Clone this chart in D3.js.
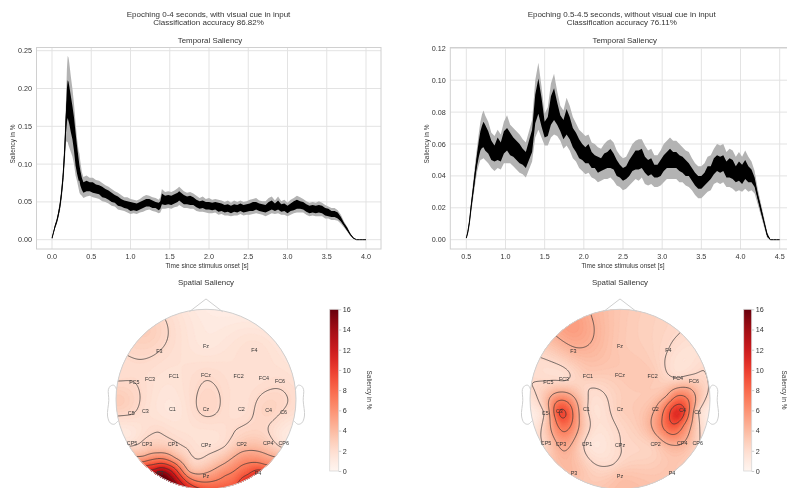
<!DOCTYPE html>
<html><head><meta charset="utf-8">
<script src="https://cdn.jsdelivr.net/npm/d3@7"></script>
<style>
html,body{margin:0;padding:0;background:#fff;overflow:hidden}
svg{display:block;font-family:"Liberation Sans",Arial,sans-serif;filter:blur(0.35px)}
</style></head><body>
<svg id="c" width="787" height="488"></svg>
<script>
// ---------- data ----------
const titleA = ["Epoching 0-4 seconds, with visual cue in input","Classification accuracy 86.82%"];
const titleB = ["Epoching 0.5-4.5 seconds, without visual cue in input","Classification accuracy 76.11%"];
const xTicksA = [0,0.5,1,1.5,2,2.5,3,3.5,4];
const xTicksB = [0.5,1,1.5,2,2.5,3,3.5,4,4.5];
const yTicksA = [0,0.05,0.1,0.15,0.2,0.25];
const yTicksB = [0,0.02,0.04,0.06,0.08,0.1,0.12];
const cbTicks = [0,2,4,6,8,10,12,14,16];

const timeA = [0,.02,.04,.06,.08,.10,.12,.14,.16,.18,.19,.20,.21,.22,.24,.26,.28,.30,.32,.34,.35,.36,.38,
.40,.44,.48,.52,.56,.60,.64,.68,.72,.76,.80,.84,.88,.92,.96,1.00,1.04,1.08,1.12,1.16,1.20,1.24,1.28,1.32,1.36,1.38,1.40,1.44,1.48,1.52,1.56,1.60,1.62,1.68,1.72,1.76,1.80,1.84,1.88,1.92,1.96,2.00,2.04,2.08,2.12,2.16,2.20,2.24,2.28,2.32,2.36,2.40,2.44,2.48,2.52,2.56,2.60,2.64,2.68,2.72,2.76,2.80,2.84,2.88,2.92,2.96,3.00,3.04,3.08,3.12,3.16,3.20,3.24,3.28,3.32,3.36,3.40,3.44,3.48,3.52,3.56,3.60,3.64,3.68,3.72,3.76,3.80,3.84,3.88,3.92,3.96,4.00];
const meanA = [.002,.010,.018,.024,.033,.044,.060,.082,.115,.160,.178,.186,.183,.178,.166,.155,.140,.120,.105,.092,.088,.082,.074,
.069,.071,.070,.069,.067,.066,.063,.061,.059,.056,.054,.051,.049,.047,.046,.044,.044,.043,.045,.047,.049,.049,.047,.046,.044,.046,.054,.052,.053,.052,.054,.056,.058,.053,.052,.052,.051,.048,.046,.047,.045,.045,.044,.045,.043,.043,.041,.042,.040,.042,.041,.043,.041,.042,.043,.044,.045,.043,.042,.041,.044,.046,.043,.046,.042,.043,.040,.043,.045,.047,.046,.045,.042,.040,.041,.040,.041,.040,.037,.036,.034,.034,.032,.027,.020,.014,.007,.002,0,0,0,0];
const blackHalfA = [.001,.001,.002,.002,.003,.004,.005,.007,.010,.016,.022,.025,.026,.025,.024,.022,.022,.022,.018,.014,.010,.010,.008,
.007,.007,.006,.007,.006,.006,.007,.006,.006,.006,.005,.006,.005,.005,.005,.006,.005,.005,.005,.005,.005,.005,.005,.004,.005,.005,.007,.006,.006,.006,.006,.006,.006,.006,.005,.006,.005,.005,.005,.005,.005,.005,.005,.005,.006,.005,.005,.005,.005,.005,.005,.005,.005,.005,.005,.006,.005,.005,.005,.005,.006,.006,.005,.006,.005,.005,.005,.005,.006,.006,.005,.005,.005,.005,.005,.005,.005,.005,.005,.005,.004,.004,.004,.003,.002,.002,.001,.0005,0,0,0,0];
const greyHalfA = [.001,.002,.003,.004,.005,.007,.009,.012,.018,.030,.048,.057,.058,.056,.050,.045,.040,.035,.028,.025,.026,.022,.016,
.014,.014,.012,.013,.012,.012,.012,.011,.011,.011,.010,.011,.010,.009,.010,.010,.009,.009,.009,.010,.010,.009,.009,.009,.009,.010,.013,.011,.011,.011,.011,.012,.012,.011,.010,.011,.010,.010,.009,.010,.009,.010,.009,.009,.010,.009,.009,.010,.009,.010,.009,.009,.009,.009,.010,.010,.010,.009,.009,.010,.011,.011,.009,.011,.009,.010,.009,.010,.010,.011,.010,.009,.009,.009,.009,.009,.010,.009,.009,.008,.008,.008,.007,.006,.004,.003,.002,.001,0,0,0,0];

const timeB = [.50,.52,.54,.56,.58,.60,.62,.64,.66,.68,.70,.72,.74,.78,.82,.86,.90,.94,.98,1.02,1.06,1.10,1.14,1.18,1.22,1.26,1.30,1.34,1.38,1.42,1.46,1.50,1.54,1.58,1.62,1.66,1.70,1.74,1.78,1.82,1.86,1.90,1.94,1.98,2.02,2.06,2.10,2.14,2.18,2.22,2.26,2.30,2.34,2.38,2.42,2.46,2.50,2.54,2.58,2.62,2.66,2.70,2.74,2.78,2.82,2.86,2.90,2.94,2.98,3.02,3.06,3.10,3.14,3.18,3.22,3.26,3.30,3.34,3.38,3.42,3.46,3.50,3.54,3.58,3.62,3.66,3.70,3.74,3.78,3.82,3.86,3.90,3.94,3.98,4.02,4.06,4.10,4.14,4.18,4.22,4.26,4.30,4.34,4.38,4.42,4.46,4.50];
const meanB = [.001,.005,.011,.020,.028,.036,.044,.051,.057,.062,.0645,.066,.064,.061,.056,.054,.057,.055,.061,.063,.060,.058,.056,.054,.052,.050,.056,.062,.082,.090,.080,.069,.071,.081,.085,.079,.073,.069,.074,.070,.064,.061,.057,.055,.053,.054,.050,.049,.047,.047,.049,.050,.051,.049,.045,.043,.041,.042,.045,.048,.050,.050,.051,.047,.045,.046,.043,.043,.045,.048,.050,.051,.050,.050,.048,.047,.045,.044,.041,.038,.036,.036,.038,.041,.042,.046,.048,.047,.048,.044,.045,.044,.041,.043,.041,.044,.041,.040,.036,.027,.019,.011,.003,0,0,0,0];
const blackHalfB = [0,.001,.001,.002,.002,.003,.003,.004,.005,.006,.007,.008,.008,.007,.006,.005,.007,.006,.007,.007,.007,.006,.006,.006,.005,.005,.006,.007,.009,.011,.009,.005,.006,.009,.010,.007,.005,.006,.008,.007,.006,.006,.006,.005,.005,.006,.005,.004,.005,.004,.005,.005,.006,.005,.005,.004,.004,.004,.005,.005,.006,.006,.006,.005,.005,.005,.004,.004,.005,.005,.005,.006,.005,.005,.005,.005,.005,.004,.004,.004,.004,.004,.004,.005,.004,.005,.005,.005,.005,.005,.006,.006,.005,.006,.006,.006,.005,.004,.003,.002,.002,.001,.001,0,0,0,0];
const greyHalfB = [0,.002,.003,.004,.005,.006,.007,.008,.010,.012,.014,.015,.014,.013,.011,.011,.012,.011,.013,.015,.012,.012,.012,.012,.011,.011,.012,.013,.018,.021,.016,.010,.012,.017,.019,.014,.011,.012,.015,.014,.013,.012,.012,.012,.012,.012,.011,.011,.011,.010,.011,.012,.012,.012,.011,.010,.010,.010,.011,.012,.012,.013,.012,.012,.011,.011,.010,.010,.011,.012,.012,.013,.012,.012,.012,.011,.011,.011,.010,.010,.010,.010,.010,.011,.011,.011,.012,.012,.012,.011,.012,.012,.011,.012,.011,.012,.011,.009,.007,.005,.004,.003,.002,0,0,0,0];

const chNames = ["Fz","F3","F4","FC5","FC3","FC1","FCz","FC2","FC4","FC6","C5","C3","C1","Cz","C2","C4","C6","CP5","CP3","CP1","CPz","CP2","CP4","CP6","P3","Pz","P4"];
const chX = [0,-.519,.537,-.796,-.622,-.356,0,.363,.644,.822,-.83,-.674,-.374,0,.393,.696,.863,-.822,-.656,-.367,0,.396,.693,.863,-.511,0,.578];
const chY = [.596,.541,.552,.189,.226,.263,.274,.263,.237,.2,-.152,-.13,-.111,-.104,-.111,-.122,-.141,-.489,-.496,-.5,-.504,-.496,-.489,-.485,-.822,-.848,-.822];
const salA = [1.3,2.3,2.0,2.3,1.9,1.7,2.2,1.8,1.9,2.1,2.4,1.9,1.3,2.6,1.8,2.8,2.2,1.8,2.9,2.6,1.7,3.3,3.0,1.5,15.2,5.2,10.5];
const salB = [3.3,4.3,2.3,2.4,2.0,3.2,3.3,3.3,2.2,2.9,2.4,9.3,2.4,3.0,4.6,10,2.2,2.5,5.0,1.7,2.3,3.2,4.6,2.6,4.0,3.6,3.5];
const extraAx = [-.659,0,.563,.933,.989,.933,-.974,-.974,-.974,-.4,-.492,-.696,-.53,-.344,-.197,.211,.397,.656,.822,-.696,-.53,-.344,-.178,.211,.397,.656,-.641,-.492,-.344,-.252,-.567,-.456,-.344,.47,.619,.341,.45,-.53,-.197,.026,.211,.322,-.81];
const extraAy = [.752,.974,.9,.456,-.1,-.47,-.026,.27,-.36,.937,-.841,-.638,-.6,-.656,-.804,-.711,-.582,-.6,-.652,-.693,-.656,-.711,-.878,-.841,-.73,-.73,-.73,-.711,-.767,-.878,-.786,-.767,-.841,-.841,-.786,-.971,-.96,-.352,-.544,-.608,-.527,-.341,-.508];
const extraAv = [3.1,1.0,1.0,1.4,2.0,1.3,3.2,2.0,1.3,2.0,15.8,4.57,4.57,4.57,4.57,4.57,4.57,4.57,4.57,6.86,6.86,6.86,6.86,6.86,6.86,6.86,9.14,9.14,9.14,9.14,11.43,11.43,11.43,9.14,9.14,9.14,13,2.29,2.29,2.29,2.29,2.29,2.29];
const extraBx = [-.519,-.326,-.707,-.89,0,.746,.67,.93,-.97,-1,-.97,-.648,-.222,-.222,-.259,-.074,-.352,.63,.944,.98,.519,.778,.826,.593,-.63,-.685,-.456,-.52,.52,-.722,-.593,-.526,-.63,-.715,.47,.63,.759,.704,.593,.481,.556,.63,.704,.685,.593];
const extraBy = [.795,.944,.701,.47,.98,.496,.739,.347,-.137,.16,-.47,-.174,-.507,-.285,-.73,-.73,.122,-.174,-.174,.085,.03,.122,-.1,-.507,-.58,.078,-.211,-.95,-.95,-.044,-.026,-.156,-.367,-.211,-.211,.04,-.007,-.285,-.396,-.322,-.174,-.063,-.081,-.211,-.278];
const extraBv = [5.6,4.57,4.57,2.29,3.4,1.6,2.29,2.29,1.0,2.29,2.0,10,1.4,1.8,2.29,2.29,2.29,11.5,1.3,2.29,4.57,4.57,4.57,4.57,4.57,4.57,4.57,3.2,3.4,6.86,6.86,6.86,6.86,6.86,6.86,6.86,6.86,6.86,6.86,6.86,9.14,9.14,9.14,9.14,9.14];
const contourLevels = [2.29,4.57,6.86,9.14,11.43,13.71];

// ---------- drawing ----------
const svg = d3.select("#c");
const TXT = "#333", GRID = "#e3e3e3", SPINE = "#d0d0d0";

function linePanel(o){
  const x = d3.scaleLinear().domain(o.xDom).range(o.xRange);
  const y = d3.scaleLinear().domain(o.yDom).range([239.7,o.yTop]);
  const g = svg.append("g");
  const clip = "clip"+o.id;
  svg.append("clipPath").attr("id",clip).append("rect").attr("x",o.left).attr("y",47.5).attr("width",o.right-o.left).attr("height",201.5);
  g.selectAll(".gx").data(o.xt).join("line").attr("x1",d=>x(d)).attr("x2",d=>x(d)).attr("y1",47.5).attr("y2",249).attr("stroke",GRID).attr("stroke-width",1);
  g.selectAll(".gy").data(o.yt).join("line").attr("x1",o.left).attr("x2",o.right).attr("y1",d=>y(d)).attr("y2",d=>y(d)).attr("stroke",GRID).attr("stroke-width",1);
  g.append("rect").attr("x",o.left).attr("y",47.5).attr("width",o.right-o.left).attr("height",201.5).attr("fill","none").attr("stroke",SPINE).attr("stroke-width",1);
  const idx = d3.range(o.time.length);
  const area = h=>d3.area().x(i=>x(o.time[i])).y0(i=>y(Math.max(0,o.mean[i]-h[i]))).y1(i=>y(o.mean[i]+h[i]));
  const m = g.append("g").attr("clip-path",`url(#${clip})`);
  m.append("path").attr("d",area(o.grey)(idx)).attr("fill","#b3b3b3");
  m.append("path").attr("d",area(o.black)(idx)).attr("fill","#000");
  m.append("path").attr("d",d3.line().x(i=>x(o.time[i])).y(i=>y(o.mean[i]))(idx)).attr("fill","none").attr("stroke","#000").attr("stroke-width",1);
  const tk = g.append("g").attr("font-size",7.2).attr("fill",TXT);
  tk.selectAll(".xl").data(o.xt).join("text").attr("x",d=>x(d)).attr("y",258.5).attr("text-anchor","middle").text(d=>d3.format(".1f")(d));
  tk.selectAll(".yl").data(o.yt).join("text").attr("x",o.left-4.5).attr("y",d=>y(d)+2.5).attr("text-anchor","end").text(d=>d3.format(".2f")(d));
  g.append("text").attr("x",o.tc).attr("y",43).attr("text-anchor","middle").attr("font-size",7.9).attr("fill",TXT).text("Temporal Saliency");
  g.append("text").attr("x",o.lc).attr("y",267.5).attr("text-anchor","middle").attr("font-size",6.5).attr("fill",TXT).text("Time since stimulus onset [s]");
  g.append("text").attr("transform",`translate(${o.ylx},144) rotate(-90)`).attr("text-anchor","middle").attr("font-size",6.5).attr("fill",TXT).text("Saliency in %");
  o.title.forEach((t,i)=>g.append("text").attr("x",o.sc).attr("y",16.5+i*8.7).attr("text-anchor","middle").attr("font-size",8).attr("fill",TXT).text(t));
}

function solveTPS(px,py,pv){
  const n=px.length, N=n+3;
  const phi=r=>r<1e-9?0:r*r*Math.log(r);
  const A=d3.range(N).map(()=>new Float64Array(N+1));
  for(let i=0;i<n;i++){
    for(let j=0;j<n;j++) A[i][j]=phi(Math.hypot(px[i]-px[j],py[i]-py[j]));
    A[i][i]=0.004;
    A[i][n]=1;A[i][n+1]=px[i];A[i][n+2]=py[i];
    A[n][i]=1;A[n+1][i]=px[i];A[n+2][i]=py[i];
    A[i][N]=pv[i];
  }
  for(let c=0;c<N;c++){
    let p=c;for(let r=c+1;r<N;r++) if(Math.abs(A[r][c])>Math.abs(A[p][c])) p=r;
    [A[c],A[p]]=[A[p],A[c]];
    for(let r=0;r<N;r++){ if(r===c) continue; const f=A[r][c]/A[c][c]; if(f===0) continue; for(let k=c;k<=N;k++) A[r][k]-=f*A[c][k]; }
  }
  const w=d3.range(N).map(i=>A[i][N]/A[i][i]);
  return (x,y)=>{let s=w[n]+w[n+1]*x+w[n+2]*y;for(let i=0;i<n;i++) s+=w[i]*phi(Math.hypot(x-px[i],y-py[i]));return s;};
}

function headPanel(o){
  const R=90, cy=399.3;
  const hx=d3.scaleLinear().domain([-1,1]).range([o.cx-R,o.cx+R]);
  const hy=d3.scaleLinear().domain([-1,1]).range([cy+R,cy-R]);
  const color=d3.scaleSequential(d3.interpolateReds).domain([0,16]);
  const f=solveTPS(chX.concat(o.ex),chY.concat(o.ey),o.sal.concat(o.ev));
  const G=200, u=i=>-1.05+2.1*i/(G-1);
  const vals=new Float64Array(G*G);
  for(let j=0;j<G;j++)for(let i=0;i<G;i++) vals[j*G+i]=Math.max(0,Math.min(16,f(u(i),u(j))));
  const proj=d3.geoTransform({point(a,b){this.stream.point(hx(u(a-0.5)),hy(u(b-0.5)));}});
  const path=d3.geoPath(proj);
  const g=svg.append("g");
  const clip="hclip"+o.id;
  svg.append("clipPath").attr("id",clip).append("circle").attr("cx",o.cx).attr("cy",cy).attr("r",R);
  const body=g.append("g").attr("clip-path",`url(#${clip})`);
  body.append("circle").attr("cx",o.cx).attr("cy",cy).attr("r",R).attr("fill",color(0));
  const cont=d3.contours().size([G,G]).smooth(true);
  body.selectAll(".b").data(cont.thresholds(d3.range(0.2,16,0.2))(vals)).join("path").attr("d",path).attr("fill",d=>color(d.value)).attr("stroke",d=>color(d.value)).attr("stroke-width",.3);
  body.selectAll(".l").data(cont.thresholds(contourLevels)(vals)).join("path").attr("d",path).attr("fill","none").attr("stroke","#333").attr("stroke-width",.7);
  // outline, nose, ears (mne head sketch proportions)
  const ol=g.append("g").attr("fill","none").attr("stroke","#cfcfcf").attr("stroke-width",1);
  ol.append("circle").attr("cx",o.cx).attr("cy",cy).attr("r",R);
  const noseX=[-.185,0,.185], noseY=[.973,1.115,.973];
  const earX=[.994,1.02,1.036,1.06,1.084,1.08,1.094,1.064,1.02,.978], earY=[.111,.155,.157,.149,.111,-.011,-.186,-.263,-.277,-.24];
  const ln=d3.line().x(d=>hx(d[0])).y(d=>hy(d[1]));
  ol.append("path").attr("d",ln(noseX.map((v,i)=>[v,noseY[i]])));
  const curve=d3.line().x(d=>hx(d[0])).y(d=>hy(d[1])).curve(d3.curveCatmullRom);
  ol.append("path").attr("d",curve(earX.map((v,i)=>[v,earY[i]])));
  ol.append("path").attr("d",curve(earX.map((v,i)=>[-v,earY[i]])));
  g.selectAll(".n").data(chNames).join("text").attr("x",(d,i)=>hx(chX[i])).attr("y",(d,i)=>hy(chY[i])+1.9).attr("text-anchor","middle").attr("font-size",5.4).attr("fill","#333").text(d=>d);
  g.append("text").attr("x",o.cx).attr("y",285).attr("text-anchor","middle").attr("font-size",7.9).attr("fill",TXT).text("Spatial Saliency");
  // colorbar
  const cs=d3.scaleLinear().domain([0,16]).range([471,309.3]);
  const gid="grad"+o.id;
  const lg=svg.append("linearGradient").attr("id",gid).attr("x1",0).attr("y1",1).attr("x2",0).attr("y2",0);
  d3.range(0,16.01,1).forEach(v=>lg.append("stop").attr("offset",v/16).attr("stop-color",color(v)));
  g.append("rect").attr("x",o.cbx).attr("y",309.3).attr("width",o.cbw).attr("height",161.7).attr("fill",`url(#${gid})`).attr("stroke","#d8d8d8").attr("stroke-width",.8);
  const ax=g.append("g").attr("transform",`translate(${o.cbx+o.cbw},0)`).call(d3.axisRight(cs).tickValues(cbTicks).tickSize(2.5).tickPadding(1.5));
  ax.select(".domain").remove();
  ax.selectAll("line").attr("stroke","#ccc");
  ax.selectAll("text").attr("font-size",7.2).attr("fill",TXT).attr("font-family","Liberation Sans");
  g.append("text").attr("transform",`translate(${o.cbl},390) rotate(90)`).attr("text-anchor","middle").attr("font-size",6.5).attr("fill",TXT).text("Saliency in %");
}

linePanel({id:"a",left:36.5,right:381,xDom:[0,4],xRange:[52,366],xt:xTicksA,yt:yTicksA,yDom:[0,.25],yTop:50.7,time:timeA,mean:meanA,black:blackHalfA,grey:greyHalfA,tc:210,lc:207,ylx:15,sc:208.5,title:titleA});
linePanel({id:"b",left:450.3,right:795.7,xDom:[.5,4.5],xRange:[466.3,779.7],xt:xTicksB,yt:yTicksB,yDom:[0,.12],yTop:48.3,time:timeB,mean:meanB,black:blackHalfB,grey:greyHalfB,tc:624.7,lc:623,ylx:428.5,sc:621.7,title:titleB});
headPanel({id:"a",cx:206,sal:salA,ex:extraAx,ey:extraAy,ev:extraAv,cbx:329.7,cbw:9,cbl:367});
headPanel({id:"b",cx:620,sal:salB,ex:extraBx,ey:extraBy,ev:extraBv,cbx:743.7,cbw:8,cbl:781.7});
</script>
</body></html>
